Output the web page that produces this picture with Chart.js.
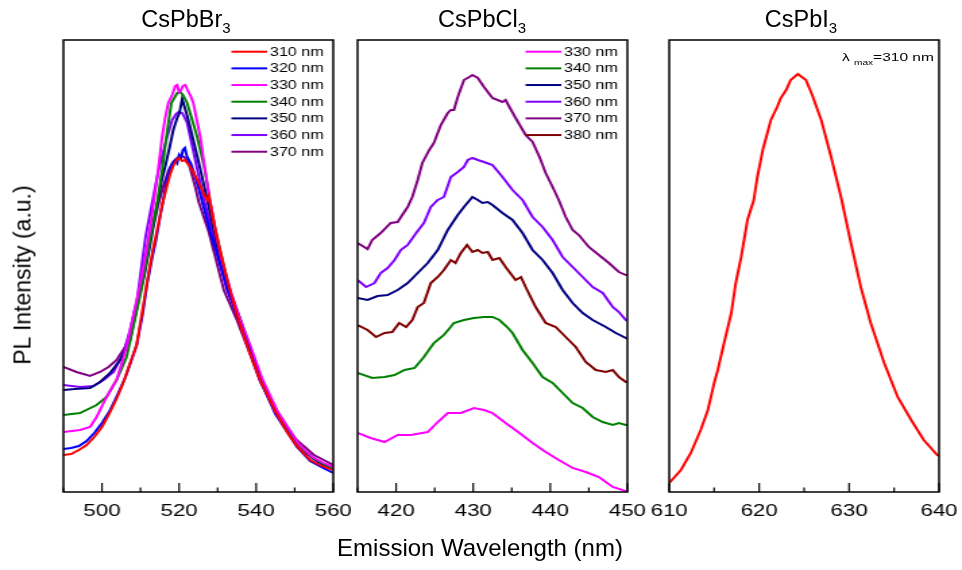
<!DOCTYPE html>
<html>
<head>
<meta charset="utf-8">
<script src="https://cdn.jsdelivr.net/npm/chart.js@4.4.0/dist/chart.umd.min.js"></script>
<style>
body { margin: 0; background: #fff; font-family: "Liberation Sans", Arial, sans-serif; color: #000; }
#wrap { position: absolute; left: 0; top: 0; width: 713px; height: 570px; transform: scaleX(1.3492); transform-origin: 0 0; }
canvas { position: absolute; top: 30px; }
.ptitle { position: absolute; top: 7px; width: 140px; text-align: center; font-size: 23.5px; line-height: 24px; white-space: nowrap; }
.ptitle sub { font-size: 15px; vertical-align: -6px; line-height: 0; }
#ytitle { position: absolute; left: 23px; top: 275px; transform: translate(-50%, -50%) rotate(-90deg); font-size: 23px; white-space: nowrap; }
#xtitle { position: absolute; left: 280px; top: 534px; width: 400px; text-align: center; font-size: 24px; line-height: 28px; }
#lmax { position: absolute; left: 624px; top: 51px; font-size: 11.5px; line-height: 12px; white-space: nowrap; }
#lmax sub { font-size: 7.5px; vertical-align: -4px; line-height: 0; }
</style>
</head>
<body>
<div id="wrap">
  <canvas id="br" width="250" height="497" style="left:21.7px"></canvas>
  <canvas id="cl" width="250" height="497" style="left:240.2px"></canvas>
  <canvas id="io" width="250" height="497" style="left:471.3px"></canvas>
  <div id="lmax">λ <sub>max</sub>=310 nm</div>
</div>
<div class="ptitle" style="left:116px">CsPbBr<sub>3</sub></div>
<div class="ptitle" style="left:412px">CsPbCl<sub>3</sub></div>
<div class="ptitle" style="left:731px">CsPbI<sub>3</sub></div>
<div id="ytitle">PL Intensity (a.u.)</div>
<div id="xtitle">Emission Wavelength (nm)</div>
<script>
// [wavelength nm, PL intensity a.u.]
const br310 = [[490,37],[492,38],[494,42],[496,47],[498,55],[500,65],[502,79],[504,95],[505.8,112],[507.3,129],[509,147],[510.3,177],[511.7,210],[513.1,240],[514.6,267],[515.6,287],[516.6,302],[517.6,317],[518.5,326],[519.3,332],[520,334],[520.8,331],[521.5,332],[522.5,327],[523.4,322],[524.5,314],[525.5,306],[526.5,297],[527.3,292],[527.7,296],[528.3,284],[529,270],[530.5,244],[532.5,212],[535,177],[538,143],[541,112],[545,80],[548,60],[550.5,46],[554,32],[557,26],[560,22]];
const br320 = [[490,43],[492,44],[494,46],[496,51],[498,59],[500,69],[502,81],[504,97],[506,114],[507.5,130],[509,147],[510.5,177],[511.8,210],[513,234],[514,252],[515,274],[516,294],[516.8,312],[517.5,322],[518.3,329],[519,332],[519.5,329],[520,337],[520.5,334],[521,342],[521.5,344],[522,336],[523,329],[523.8,320],[525,305],[526,290],[527,276],[528.1,260],[530,236],[532,210],[535,176],[538,145],[541,112],[545,78],[550.6,45],[554,31],[557.4,24],[560,19]];
const br330 = [[490,60],[494.3,62],[496.9,65],[498.6,75],[500.4,89],[501.2,95],[503.8,112],[505,127],[506.5,147],[508,174],[509.5,200],[511,230],[512.5,264],[513.4,289],[514.5,320],[515.6,355],[516.4,374],[517.2,389],[518.2,397],[519,406],[519.5,407],[520,400],[520.5,402],[521,406],[521.6,407],[522.2,402],[523,396],[523.7,389],[524.6,372],[525.5,355],[526.6,326],[527.9,294],[529.4,262],[531.1,231],[533.7,197],[536,171],[538.5,146],[541.5,114],[545.5,81],[551,48],[554.5,35],[557.5,29],[560,25]];
const br340 = [[490,77],[494.3,79],[498.6,87],[501.2,95],[503.8,112],[506.4,135],[508.1,165],[510.2,202],[512.6,255],[514.3,289],[515.6,322],[516.7,355],[518,389],[519.5,399],[520.3,400],[521,397],[522.1,389],[523.4,372],[524.7,355],[526.6,324],[527.9,294],[529.4,262],[531.6,226],[533.3,200],[535.8,174],[538.4,146],[541.4,113],[545.4,81],[550.8,47],[554.5,35],[557.5,28],[560,24]];
const br350 = [[490,102],[493,103],[496.9,104],[499.5,110],[502.1,119],[504.7,132],[507.3,152],[509.4,192],[511,217],[512.7,252],[514.3,287],[515.5,312],[516.5,327],[517.5,344],[518.5,362],[519.5,374],[520.1,379],[520.8,393],[521.5,384],[522.4,372],[524,347],[525.5,323],[527.3,292],[529,262],[530.8,230],[532.8,201],[535.5,176],[538.2,145],[541.2,112],[545.2,80],[550.8,46],[554.5,34],[557.4,27],[560,24]];
const br360 = [[490,107],[494.3,105],[497.8,106],[500.4,112],[503,120],[505.6,139],[507.3,162],[509.1,192],[511.3,255],[513,289],[514.7,322],[516.9,355],[518.2,372],[519.2,378],[519.9,380],[520.8,379],[521.5,374],[522.1,369],[522.9,355],[524.7,323],[526.4,293],[528.5,262],[530.5,231],[532.4,202],[535.3,176],[538.2,145],[541.2,112],[545.2,80],[550.8,46],[554.5,35],[557.4,27],[560,25]];
const br370 = [[490,125],[493.4,120],[496.9,116],[499.5,120],[501.7,125],[503.8,132],[506,145],[507.7,162],[509.5,192],[511,222],[512.6,255],[514.7,289],[516,307],[517.3,322],[518.5,330],[519.5,334],[520.8,336],[521.6,334],[522.5,329],[524.2,305],[525.1,290],[527.7,260],[529.6,232],[531.6,202],[535,172],[538,142],[541,111],[545,81],[550.5,52],[555,37],[560,27]];

const cl330 = [[415,59],[416.7,54],[418.5,50],[420.2,57],[421.9,57],[424.1,60],[425.4,70],[426.7,79],[428.4,79],[430.1,84],[431.4,82],[432.5,79],[434.2,69],[436,59],[437.7,49],[439.4,40],[441.1,32],[442.9,24],[444.6,20],[446.3,15],[448.1,5],[449.8,1],[450,0]];
const cl340 = [[415,119],[416.9,114],[418.5,115],[419.8,117],[421.1,122],[422.4,124],[423.6,135],[424.9,149],[426.2,157],[427.5,169],[428.8,172],[430.1,174],[431.4,175],[432.5,175],[433.4,172],[434.4,165],[435.1,159],[436.4,142],[437.7,129],[439,115],[440.3,109],[441.6,99],[442.9,89],[444.2,84],[445.5,75],[446.8,70],[448.1,67],[448.9,69],[449.8,67],[450,67]];
const cl350 = [[415,194],[416.3,192],[417.6,196],[418.9,197],[420.2,202],[421.5,209],[422.8,219],[424.1,229],[425.4,242],[426.7,262],[428,277],[428.8,285],[429.9,295],[430.6,292],[431.2,289],[431.9,290],[432.5,287],[433.8,279],[435.1,272],[436.4,259],[437.7,242],[439,232],[440.3,219],[441.6,202],[442.9,189],[444.2,179],[445.5,172],[447.2,165],[448.5,159],[449.8,154],[450,153]];
const cl360 = [[415,212],[416.1,205],[417.2,209],[418,219],[418.9,224],[419.8,232],[420.6,242],[421.5,247],[422.6,259],[423.6,269],[424.5,285],[425.4,292],[426.2,295],[427.1,315],[428,320],[428.8,325],[429.3,332],[429.9,334],[430.6,332],[431.4,330],[432.5,327],[433.8,315],[435.1,302],[436.4,292],[437.7,275],[439,265],[440.3,252],[441.6,235],[442.9,225],[444.2,215],[445.5,205],[446.8,199],[448.1,185],[448.9,180],[449.8,172],[450,171]];
const cl370 = [[415,249],[416.3,243],[416.9,252],[418,259],[419.3,269],[420.2,270],[420.8,277],[421.5,285],[422.1,295],[422.8,312],[423.4,329],[424.3,342],[424.9,349],[425.8,367],[426.7,379],[427.1,382],[427.5,382],[428,395],[428.8,412],[429.5,415],[429.9,417],[430.6,414],[431.4,405],[432.5,394],[433.8,390],[434.2,392],[434.7,385],[435.5,374],[436.8,357],[437.7,350],[438.6,335],[439.4,319],[440.3,305],[441.1,292],[442,275],[442.9,262],[443.7,257],[445,245],[446.3,237],[447.6,229],[448.9,220],[449.8,217],[450,217]];
const cl380 = [[415,167],[416.3,162],[417.4,155],[418.5,159],[419.5,160],[420.4,169],[421.3,165],[422.1,172],[422.8,185],[423.6,189],[424.5,209],[425.4,215],[426.2,222],[427.1,232],[427.7,229],[428.4,239],[429.2,247],[429.9,240],[430.6,242],[431.2,239],[431.9,240],[432.5,232],[433.4,234],[434.2,225],[435.5,212],[436.2,215],[436.8,205],[438.1,185],[439.4,169],[440.7,165],[442,155],[443.3,145],[444.6,130],[445.9,122],[447.2,120],[448.1,122],[448.9,115],[449.8,110],[450,110]];

const i310 = [[610,9],[611.3,22],[612.4,39],[613.5,62],[614.3,82],[615,109],[615.4,122],[616.1,149],[616.9,179],[617.4,209],[618,235],[618.7,272],[619.4,292],[619.8,315],[620.4,342],[621.3,372],[622,385],[622.4,394],[623,402],[623.5,412],[624.3,418],[625.2,412],[625.9,397],[626.9,372],[628,335],[629.1,295],[630.2,249],[631.3,205],[632.4,169],[633.9,129],[635.4,95],[636.9,72],[638.3,52],[639.8,37],[640,36]];

const brLabels = ['310 nm', '320 nm', '330 nm', '340 nm', '350 nm', '360 nm', '370 nm'];
const clLabels = ['330 nm', '340 nm', '350 nm', '360 nm', '370 nm', '380 nm'];
const iLabels = ['310 nm'];

const brRange = [490, 560];
const clRange = [415, 450];
const iRange = [610, 640];
const yRange = [0, 452];

const colorOf = {
    '310 nm': '#ff0000', '320 nm': '#0000ff', '330 nm': '#ff00ff', '340 nm': '#008000',
    '350 nm': '#000080', '360 nm': '#8000ff', '370 nm': '#800080', '380 nm': '#800000'
};

Chart.defaults.font.family = '"Liberation Sans", Arial, sans-serif';
Chart.defaults.color = '#000';

// box around the plot, inward ticks, legend inside top right
const frame = {
    id: 'frame',
    afterDraw(chart, args, opts) {
        const { ctx, chartArea: a } = chart;
        const x = chart.scales.x;
        ctx.save();
        ctx.strokeStyle = '#000';
        ctx.lineWidth = 1.5;
        ctx.strokeRect(a.left, a.top, a.right - a.left, a.bottom - a.top);
        ctx.lineWidth = 1.2;
        x.ticks.forEach(t => {
            const px = x.getPixelForValue(t.value);
            const len = t.value % opts.major === 0 ? 9 : 4.5;
            ctx.beginPath();
            ctx.moveTo(px, a.bottom);
            ctx.lineTo(px, a.bottom - len);
            ctx.stroke();
        });
        if (opts.legend) {
            ctx.font = '12px "Liberation Sans", Arial, sans-serif';
            ctx.textBaseline = 'middle';
            ctx.fillStyle = '#000';
            chart.data.datasets.forEach((ds, i) => {
                const y = a.top + 11.7 + i * 16.67;
                ctx.strokeStyle = ds.borderColor;
                ctx.lineWidth = 2;
                ctx.beginPath();
                ctx.moveTo(a.right - 75.5, y);
                ctx.lineTo(a.right - 49, y);
                ctx.stroke();
                ctx.fillText(ds.label, a.right - 47, y + 0.5);
            });
        }
        ctx.restore();
    }
};

function makePanel(id, series, labels, range, step, major, legend) {
    new Chart(document.getElementById(id).getContext('2d'), {
        type: 'line',
        data: {
            datasets: series.map((s, i) => ({
                label: labels[i],
                data: s,
                borderColor: colorOf[labels[i]],
                borderWidth: 2,
                pointRadius: 0,
                tension: 0,
                fill: false
            }))
        },
        options: {
            responsive: false,
            animation: false,
            events: [],
            layout: { padding: { left: 25, right: 25, top: 10, bottom: 0 } },
            scales: {
                x: {
                    type: 'linear',
                    min: range[0],
                    max: range[1],
                    grid: { display: false, drawTicks: false },
                    border: { display: false },
                    ticks: {
                        stepSize: step,
                        autoSkip: false,
                        maxRotation: 0,
                        padding: 10,
                        font: { size: 16.5 },
                        callback: v => v % major === 0 ? v : ''
                    },
                    afterFit: s => { s.height = 35; }
                },
                y: { display: false, min: yRange[0], max: yRange[1] }
            },
            plugins: {
                legend: { display: false },
                tooltip: { enabled: false },
                frame: { major: major, legend: legend }
            }
        },
        plugins: [frame]
    });
}

makePanel('br', [br310, br320, br330, br340, br350, br360, br370], brLabels, brRange, 10, 20, true);
makePanel('cl', [cl330, cl340, cl350, cl360, cl370, cl380], clLabels, clRange, 5, 10, true);
makePanel('io', [i310], iLabels, iRange, 5, 10, false);
</script>
</body>
</html>
